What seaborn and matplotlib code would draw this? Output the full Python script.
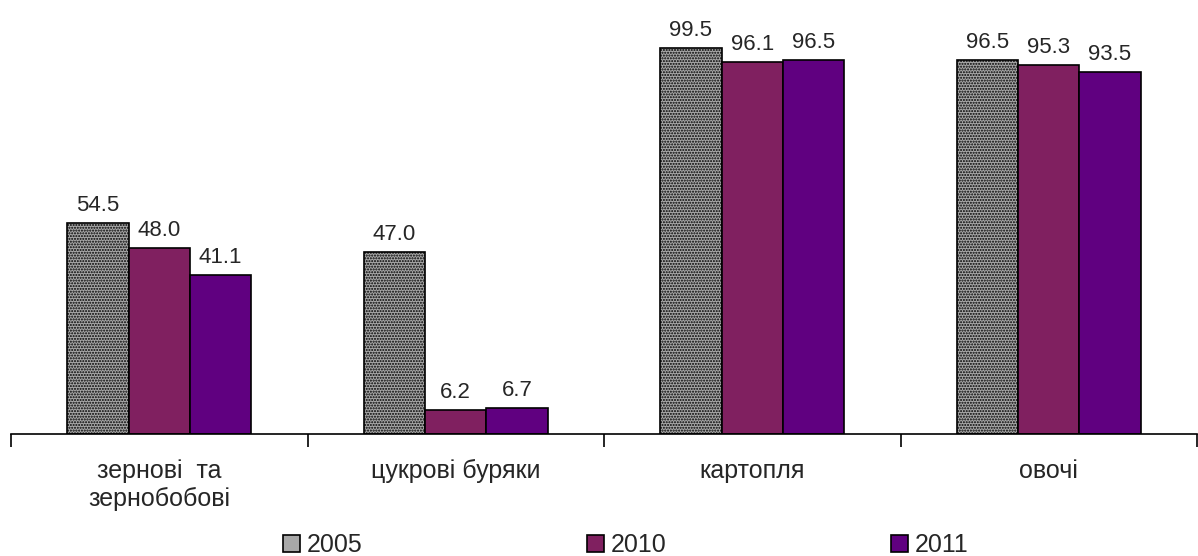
import numpy as np
import pandas as pd
import seaborn as sns
import matplotlib.pyplot as plt

# Data
categories = ['зернові  та\nзернобобові', 'цукрові буряки', 'картопля', 'овочі']
years = ['2005', '2010', '2011']
values_2005 = [54.5, 47.0, 99.5, 96.5]
values_2010 = [48.0, 6.2, 96.1, 95.3]
values_2011 = [41.1, 6.7, 96.5, 93.5]

df = pd.DataFrame({
    'Category': categories * 3,
    'Year': [y for y in years for _ in categories],
    'Value': values_2005 + values_2010 + values_2011,
})

sns.set_style('white')
plt.rcParams['font.family'] = ['Liberation Sans', 'DejaVu Sans']
plt.rcParams['hatch.linewidth'] = 1.0

palette = {'2005': '#a8a8a8', '2010': '#802060', '2011': '#600080'}

fig = plt.figure(figsize=(11.98, 5.56), dpi=100)
ax = fig.add_axes([11 / 1198, 122 / 556, 1186 / 1198, 434 / 556])

sns.barplot(data=df, x='Category', y='Value', hue='Year', palette=palette,
            width=0.62, edgecolor='black', linewidth=1.2, saturation=1,
            ax=ax, legend=True)

# pattern for 2005 bars
for patch in ax.containers[0].patches:
    patch.set_hatch('......')

for cont in ax.containers:
    ax.bar_label(cont, fmt='%.1f', padding=5, fontsize=16)

ax.set_ylim(0, 112)
ax.set_xlim(-0.5, 3.5)
ax.set_xlabel('')
ax.set_ylabel('')
ax.set_yticks([])
for s in ['top', 'right', 'left']:
    ax.spines[s].set_visible(False)
ax.spines['bottom'].set_linewidth(1.2)
ax.spines['bottom'].set_color('black')

ax.set_xticks(range(len(categories)))
ax.set_xticklabels(categories, fontsize=18, linespacing=1.2)
ax.tick_params(axis='x', which='major', length=0, pad=18)
ax.set_xticks([-0.5, 0.5, 1.5, 2.5, 3.5], minor=True)
ax.tick_params(axis='x', which='minor', length=9, width=1.2, color='black',
               bottom=True)

handles, labels = ax.get_legend_handles_labels()
ax.get_legend().remove()
fig.legend(handles, labels, loc='lower center', bbox_to_anchor=(0.5225, -0.043),
           ncol=3, frameon=False, fontsize=18, handlelength=0.65,
           handleheight=0.65, handletextpad=0.28, columnspacing=9.0)

fig.savefig('out.png', dpi=100)
